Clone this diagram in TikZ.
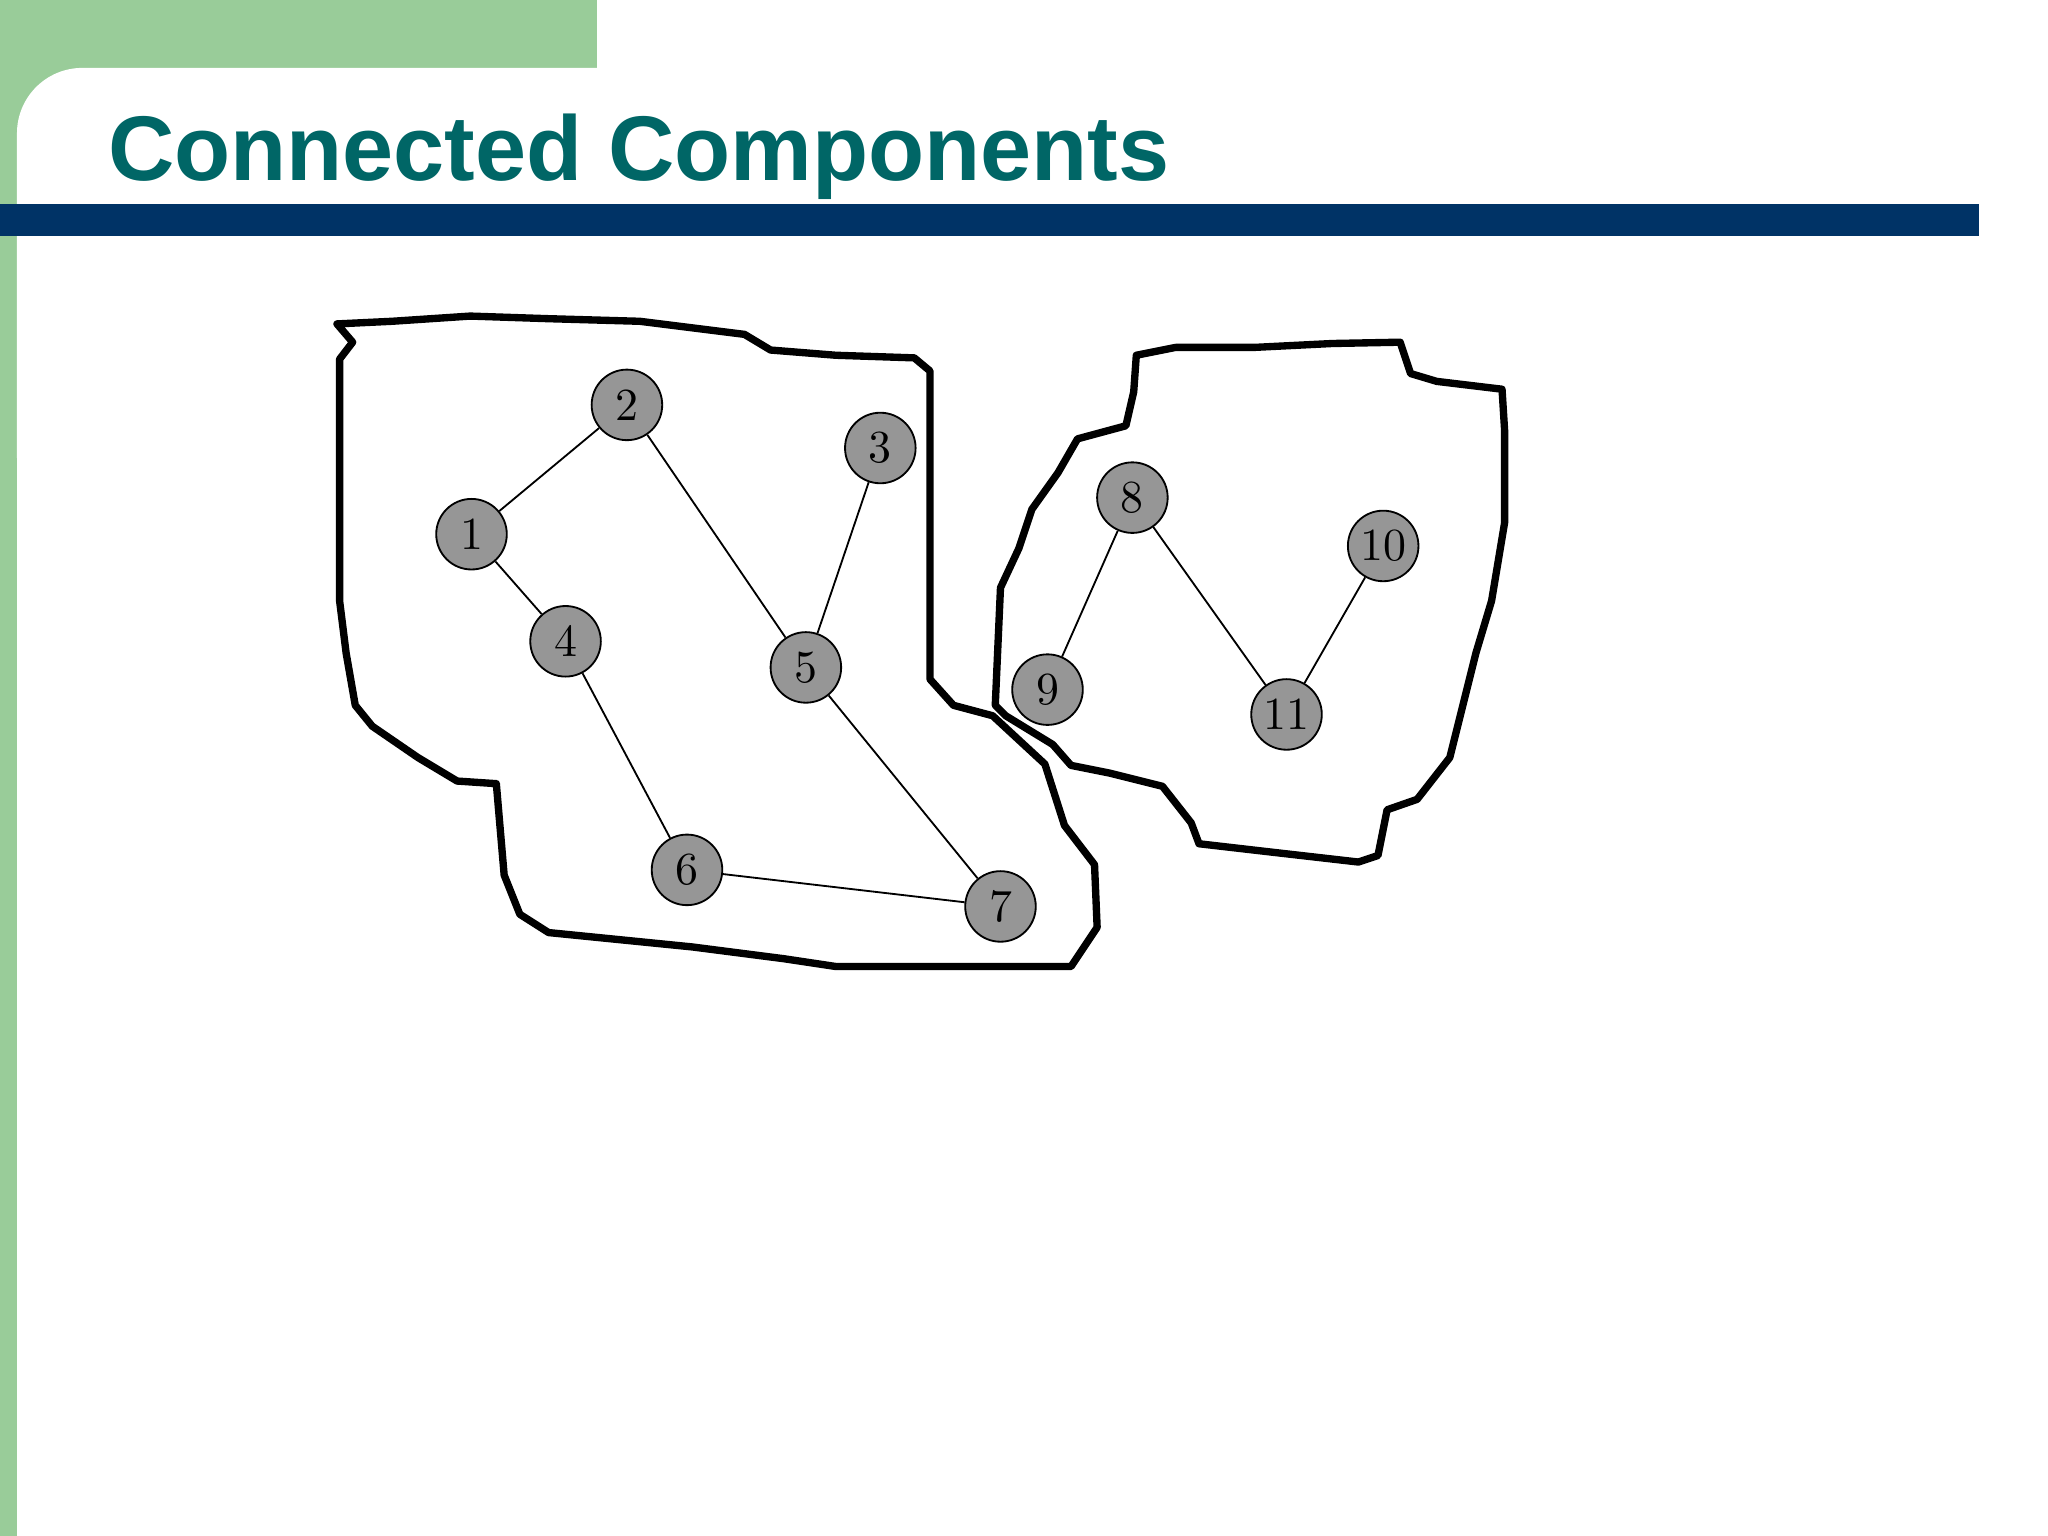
\documentclass[tikz,border=0pt]{standalone}
\usepackage{fontspec}
\newfontfamily\titlefont{Liberation Sans}
\definecolor{slidegreen}{RGB}{153,204,153}
\definecolor{slideblue}{RGB}{0,51,102}
\definecolor{titleteal}{RGB}{0,102,102}
\definecolor{nodegray}{RGB}{150,150,150}
\begin{document}
\begin{tikzpicture}[x=0.01cm,y=-0.01cm,
                    main node/.style={circle,fill=nodegray,draw,
                      inner sep=0pt,minimum size=0.54cm,font=\fontsize{10}{10}\selectfont},
                    blob/.style={line width=1.6pt,line join=round}
                   ]
   \useasboundingbox (0,0) rectangle (1568,1176);
   % slide frame
   \fill[slidegreen] (0,0) rectangle (457,102);
   \fill[slidegreen] (0,0) rectangle (13,1176);
   \fill[white,rounded corners=0.5cm] (13,52) rectangle (700,400);
   \fill[slideblue] (0,156) rectangle (1515,181);
   \node[anchor=base west,inner sep=0pt,text=titleteal,
         font=\titlefont\bfseries\fontsize{20}{20}\selectfont] (title) at (82,138) {Connected Components};
   % components
   \draw[blob] (258,248) -- (300,246) -- (360,242) -- (420,244) -- (490,246) -- (570,256)
     -- (590,268) -- (640,272) -- (700,274) -- (712,284) -- (712,520) -- (730,540)
     -- (760,548) -- (800,585) -- (815,632) -- (838,662) -- (840,710) -- (820,740)
     -- (640,740) -- (600,734) -- (530,725) -- (460,718) -- (420,714) -- (398,700)
     -- (386,670) -- (380,600) -- (350,598) -- (320,580) -- (285,556) -- (272,540)
     -- (265,500) -- (260,460) -- (260,275) -- (270,262) -- cycle;
   \draw[blob] (870,272) -- (900,266) -- (960,266) -- (1020,263) -- (1072,262) -- (1080,286)
     -- (1100,292) -- (1150,298) -- (1152,330) -- (1152,400) -- (1142,460) -- (1130,500)
     -- (1120,540) -- (1110,580) -- (1085,612) -- (1062,620) -- (1055,655) -- (1040,660)
     -- (970,652) -- (918,646) -- (912,630) -- (890,602) -- (850,592) -- (820,586)
     -- (806,570) -- (770,548) -- (762,540) -- (766,450) -- (780,420) -- (790,390)
     -- (810,362) -- (825,336) -- (862,326) -- (868,300) -- cycle;
   \node[main node] (n1) at (361,409) {1};
   \node[main node] (n2) at (480,310) {2};
   \node[main node] (n3) at (674,343) {3};
   \node[main node] (n4) at (433,491) {4};
   \node[main node] (n5) at (617,511) {5};
   \node[main node] (n6) at (526,666) {6};
   \node[main node] (n7) at (766,694) {7};
   \node[main node] (n8) at (867,381) {8};
   \node[main node] (n9) at (802,528) {9};
   \node[main node] (n10) at (1059,418) {10};
   \node[main node] (n11) at (985,547) {11};
   \path[draw,thin]%
     (n1) edge (n2)
     (n1) edge (n4)
     (n2) edge (n5)
     (n3) edge (n5)
     (n4) edge (n6)
     (n5) edge (n7)
     (n6) edge (n7)
     (n8) edge (n9)
     (n8) edge (n11)
     (n10) edge (n11);
\end{tikzpicture}
\end{document}
